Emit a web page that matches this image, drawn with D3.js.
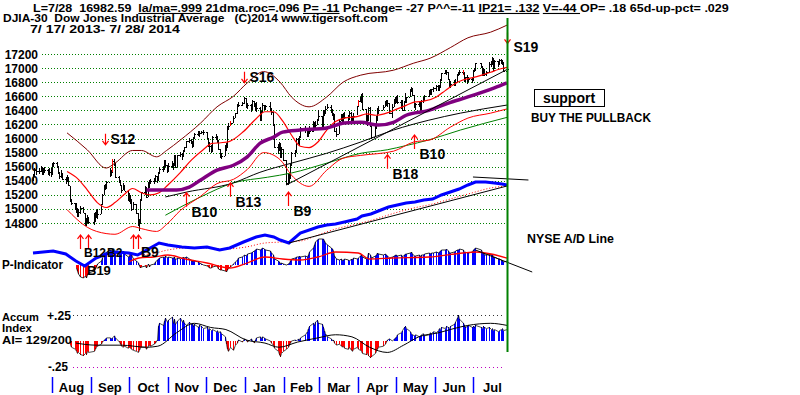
<!DOCTYPE html>
<html>
<head>
<meta charset="utf-8">
<title>DJIA-30 Dow Jones Industrial Average</title>
<script src="https://cdn.jsdelivr.net/npm/d3@7"></script>
<style>
  body { margin: 0; background: #fff; }
  svg { display: block; }
  text { font-family: "Liberation Sans", Arial, sans-serif; font-weight: bold; fill: #000; white-space: pre; }
</style>
</head>
<body>
<svg id="chart" width="800" height="395"></svg>
<script>
// ---- values ----
const holidays = ["2013-09-02", "2013-11-28", "2013-12-25", "2014-01-01", "2014-01-20",
  "2014-02-17", "2014-04-18", "2014-05-26", "2014-07-04"];

// daily closes, one line per month (Jul 17 2013 .. Jul 28 2014)
const closes = [
  15470, 15548, 15543, 15545, 15568, 15542, 15555, 15559, 15521, 15520, 15500,
  15628, 15658, 15612, 15518, 15470, 15498, 15425, 15419, 15451, 15337, 15112, 15081, 15010, 15002, 14897, 14963, 15010, 14946, 14776, 14824, 14840, 14810,
  14834, 14930, 14937, 14922, 15063, 15191, 15327, 15300, 15376, 15494, 15529, 15676, 15636, 15451, 15401, 15334, 15273, 15328, 15258, 15130,
  15191, 15133, 14997, 15073, 14936, 14776, 14802, 15127, 15237, 15301, 15168, 15373, 15371, 15399, 15392, 15467, 15413, 15509, 15570, 15568, 15680, 15618, 15545,
  15615, 15639, 15618, 15746, 15593, 15761, 15783, 15751, 15821, 15876, 15961, 15976, 15967, 15900, 16009, 16064, 16072, 16073, 16097, 16086,
  16008, 15914, 15889, 15821, 16020, 16025, 15973, 15844, 15739, 15755, 15884, 15875, 16168, 16179, 16221, 16294, 16357, 16479, 16478, 16505, 16577,
  16441, 16469, 16426, 16531, 16463, 16444, 16437, 16257, 16374, 16481, 16418, 16459, 16415, 16374, 16198, 15880, 15838, 15929, 15739, 15849, 15699,
  15373, 15445, 15441, 15629, 15795, 15802, 15995, 15964, 16028, 16154, 16130, 16040, 16133, 16104, 16208, 16180, 16198, 16273, 16322,
  16169, 16396, 16361, 16422, 16453, 16419, 16351, 16341, 16109, 16065, 16248, 16337, 16223, 16332, 16303, 16277, 16367, 16268, 16264, 16324, 16458,
  16533, 16573, 16573, 16413, 16246, 16257, 16438, 16171, 16027, 16174, 16263, 16425, 16409, 16449, 16514, 16501, 16502, 16361, 16448, 16535, 16581,
  16559, 16513, 16531, 16402, 16519, 16551, 16584, 16696, 16715, 16614, 16447, 16491, 16512, 16375, 16533, 16543, 16606, 16676, 16634, 16699, 16717,
  16744, 16723, 16738, 16836, 16924, 16944, 16946, 16844, 16734, 16776, 16781, 16809, 16907, 16922, 16948, 16937, 16818, 16867, 16846, 16852, 16827,
  16957, 16977, 17068, 17025, 16906, 16985, 16915, 16944, 17055, 17061, 17139, 16977, 17100, 17052, 17114, 17087, 17083, 16961, 16983
];
// points from close up to the day's high
const hiOff = [
  30, 40, 50, 40, 40, 50, 30, 40, 50, 60, 80,
  20, 10, 50, 90, 50, 60, 80, 40, 30, 110, 220, 60, 80, 80, 120, 30, 30, 80, 170, 40, 70, 70,
  110, 20, 50, 80, 10, 20, 10, 50, 20, 80, 30, 30, 70, 200, 60, 80, 70, 40, 80, 120,
  30, 60, 140, 30, 130, 170, 60, 10, 10, 20, 140, 10, 40, 20, 40, 20, 60, 10, 20, 40, 10, 80, 80,
  30, 40, 40, 20, 170, 10, 20, 40, 10, 10, 10, 30, 30, 70, 10, 20, 30, 30, 10, 30,
  90, 100, 60, 80, 10, 40, 60, 130, 110, 40, 20, 60, 10, 40, 30, 20, 10, 10, 40, 20, 10,
  140, 30, 70, 20, 70, 60, 80, 190, 20, 30, 60, 20, 110, 60, 180, 320, 80, 20, 190, 30, 150,
  320, 50, 60, 10, 10, 30, 10, 40, 10, 10, 50, 100, 20, 70, 40, 60, 50, 10, 80,
  150, 10, 40, 40, 40, 50, 70, 20, 230, 80, 20, 10, 120, 30, 70, 50, 20, 110, 50, 40, 10,
  20, 20, 60, 230, 170, 70, 10, 270, 150, 30, 50, 10, 50, 20, 20, 40, 40, 140, 40, 30, 10,
  50, 100, 20, 140, 20, 90, 10, 10, 20, 110, 170, 20, 10, 140, 10, 40, 10, 10, 70, 10, 20,
  10, 30, 20, 10, 10, 30, 30, 100, 110, 40, 50, 40, 10, 20, 20, 30, 130, 10, 50, 20, 50,
  10, 30, 10, 50, 120, 10, 70, 20, 30, 40, 20, 160, 10, 50, 10, 40, 30, 120, 30
];
// points from close down to the day's low
const loOff = [
  80, 90, 60, 50, 50, 60, 70, 50, 40, 50, 40,
  130, 60, 30, 20, 50, 60, 20, 60, 70, 10, 10, 30, 20, 60, 10, 70, 80, 10, 10, 60, 40, 20,
  60, 110, 60, 70, 140, 130, 130, 30, 80, 40, 60, 150, 30, 10, 40, 10, 40, 60, 10, 10,
  90, 60, 20, 90, 10, 10, 110, 330, 120, 100, 10, 210, 70, 50, 40, 90, 40, 100, 70, 40, 120, 20, 30,
  80, 60, 60, 130, 10, 170, 50, 60, 90, 60, 90, 40, 50, 30, 110, 60, 40, 50, 40, 30,
  20, 30, 80, 30, 200, 40, 30, 10, 20, 50, 130, 50, 300, 60, 50, 80, 70, 130, 30, 50, 80,
  10, 50, 50, 110, 20, 50, 60, 10, 130, 100, 20, 50, 20, 40, 20, 10, 60, 90, 10, 120, 20,
  30, 100, 80, 190, 170, 60, 200, 40, 130, 130, 50, 20, 100, 40, 110, 40, 50, 80, 80,
  40, 230, 40, 70, 40, 50, 30, 80, 10, 50, 180, 90, 30, 120, 30, 60, 90, 10, 50, 70, 130,
  80, 50, 70, 10, 20, 80, 190, 10, 30, 150, 130, 170, 60, 50, 70, 40, 60, 10, 150, 90, 90,
  60, 30, 110, 10, 130, 50, 80, 110, 50, 10, 10, 80, 60, 10, 160, 40, 70, 80, 20, 70, 60,
  70, 50, 60, 110, 90, 30, 50, 10, 10, 60, 40, 60, 100, 40, 40, 40, 10, 70, 70, 50, 40,
  130, 30, 90, 30, 10, 80, 30, 60, 120, 40, 80, 10, 120, 30, 60, 30, 40, 10, 80
];
const redBarDays = ["2013-09-18", "2013-12-20", "2014-04-01", "2014-06-23"];
const priceTicks = [17200, 17000, 16800, 16600, 16400, 16200, 16000, 15800, 15600, 15400, 15200, 15000, 14800];

const bandDates = ["2013-08-13", "2013-08-29", "2013-09-13", "2013-09-20", "2013-10-04", "2013-10-11", "2013-10-23",
  "2013-10-31", "2013-11-11", "2013-11-27", "2013-12-10", "2013-12-23", "2014-01-03", "2014-01-16", "2014-01-29",
  "2014-02-07", "2014-02-21", "2014-03-07", "2014-03-20", "2014-04-03", "2014-04-29", "2014-05-15", "2014-05-28",
  "2014-06-13", "2014-06-27", "2014-07-15", "2014-07-28"];
const upperBand = [16080, 15840, 15580, 15650, 15830, 15830, 15740, 15830, 15980, 16220, 16450, 16600, 16790, 16950,
  16800, 16590, 16450, 16590, 16800, 16900, 16970, 17070, 17140, 17290, 17430, 17510, 17610];
const lowerBand = [14990, 14740, 14650, 14640, 14750, 14720, 14680, 14780, 14980, 15180, 15360, 15420, 15560, 15800,
  15700, 15480, 15320, 15550, 15720, 15760, 15820, 15950, 15980, 16160, 16290, 16360, 16420];

const ma21Dates = ["2013-08-13", "2013-08-22", "2013-08-29", "2013-09-06", "2013-09-13", "2013-09-20", "2013-09-27",
  "2013-10-04", "2013-10-11", "2013-10-18", "2013-10-25", "2013-11-01", "2013-11-11", "2013-11-20", "2013-11-29",
  "2013-12-06", "2013-12-13", "2013-12-20", "2013-12-31", "2014-01-10", "2014-01-17", "2014-01-24", "2014-01-31",
  "2014-02-07", "2014-02-14", "2014-02-21", "2014-02-28", "2014-03-07", "2014-03-14", "2014-03-21", "2014-03-31",
  "2014-04-08", "2014-04-15", "2014-04-25", "2014-05-02", "2014-05-09", "2014-05-16", "2014-05-23", "2014-06-02",
  "2014-06-09", "2014-06-16", "2014-06-23", "2014-06-30", "2014-07-08", "2014-07-15", "2014-07-21", "2014-07-28"];
const ma21 = [15530, 15420, 15270, 15090, 15020, 15090, 15200, 15290, 15230, 15200, 15230, 15340, 15520, 15700, 15840,
  15930, 15940, 15960, 16100, 16280, 16380, 16380, 16250, 16050, 15890, 15870, 15950, 16120, 16240, 16290, 16310,
  16350, 16330, 16370, 16420, 16470, 16520, 16530, 16590, 16680, 16770, 16830, 16860, 16900, 16940, 16980, 17010];

const ma50Dates = ["2013-10-15", "2013-11-08", "2013-11-18", "2013-11-27", "2013-12-10", "2013-12-23", "2014-01-03",
  "2014-01-13", "2014-01-24", "2014-01-31", "2014-02-14", "2014-03-07", "2014-03-21", "2014-04-03", "2014-04-17",
  "2014-04-29", "2014-05-09", "2014-05-27", "2014-06-11", "2014-06-27", "2014-07-18", "2014-07-28"];
const ma50 = [15270, 15270, 15310, 15410, 15550, 15620, 15740, 15930, 16020, 16090, 16120, 16150, 16220, 16230, 16190,
  16230, 16330, 16400, 16500, 16590, 16720, 16790];

const ma200Dates = ["2013-10-30", "2013-11-16", "2013-12-23", "2014-01-13", "2014-02-07", "2014-03-07", "2014-04-03",
  "2014-04-29", "2014-05-27", "2014-06-21", "2014-07-28"];
const ma200 = [15170, 15240, 15370, 15520, 15650, 15790, 15950, 16120, 16260, 16360, 16475];

const greenDates = ["2013-10-30", "2013-11-27", "2013-12-23", "2014-01-19", "2014-02-07", "2014-03-07", "2014-04-03",
  "2014-04-24", "2014-05-09", "2014-05-27", "2014-06-21", "2014-07-28"];
const greenLine = [14910, 15170, 15370, 15450, 15510, 15650, 15790, 15840, 15900, 15980, 16120, 16300];

const priceTrend = [["2014-02-03", 15340], ["2014-07-28", 16980]];

// [date, label, price at arrow tip]
const signals = [
  ["2013-09-12", "S12", 15910], ["2013-12-31", "S16", 16790], ["2014-07-28", "S19", 17350],
  ["2013-11-15", "B10", 15230], ["2013-12-20", "B13", 15370], ["2014-02-04", "B9", 15240],
  ["2014-04-24", "B18", 15770], ["2014-05-15", "B10", 16050],
  ["2013-08-23", "", 14630], ["2013-08-30", "", 14630], ["2013-10-04", "", 14630], ["2013-10-08", "", 14630]
];

// P-Indicator, daily from Aug 20 2013
const pStart = "2013-08-20";
const pValues = [
  -3, -6, -9, -12, -13, -11, -13, -10, -8, -6, -4, -2, 1,
  4, 7, 10, 12, 13, 15, 14, 16, 13, 12, 11, 13, 12, 14, 11, 8,
  9, 12, 10, 6, 4, 2, -1, -3, -2, -1, -3, 1, -2, 0, 1, 3, 5, 6, 7, 8, 7, 9, 7,
  8, 7, 7, 8, 5, 7, 6, 7, 8, 7, 8, 6, 5, 3, 5, 4, 3, 2, 1, 0,
  -1, -2, -3, -3, -2, -1, -2, -4, -5, -5, -6, -7, -5, -3, -2, 1, 3, 5, 7, 8, 10,
  9, 11, 12, 13, 14, 15, 16, 15, 16, 17, 16, 15, 14, 12, 10, 6, 4, 3, 1, 2, 1,
  0, 1, 2, 4, 6, 7, 8, 8, 9, 8, 9, 8, 10, 13, 17, 20, 23, 25, 26,
  26, 26, 24, 22, 20, 17, 16, 14, 9, 6, 5, 6, 4, 5, 6, 5, 4, 6, 5, 7, 6,
  7, 9, 10, 8, 6, 7, 12, 10, 7, 9, 10, 12, 11, 10, 11, 10, 9, 7, 8, 9, 10,
  10, 9, 10, 8, 10, 11, 11, 12, 13, 11, 9, 9, 10, 8, 10, 10, 11, 12, 11, 12, 12,
  13, 12, 13, 14, 15, 15, 16, 14, 12, 12, 13, 14, 15, 15, 16, 15, 12, 13, 12, 12, 13,
  15, 16, 17, 15, 12, 12, 10, 10, 11, 10, 11, 7, 8, 6, 6, 5, 4, 3, 4
];
const pMaDates = ["2013-10-01", "2013-10-09", "2013-10-21", "2013-11-01", "2013-11-15", "2013-12-02", "2013-12-20",
  "2014-01-03", "2014-01-17", "2014-01-31", "2014-02-14", "2014-02-28", "2014-03-14", "2014-04-01", "2014-04-10",
  "2014-04-28", "2014-05-27", "2014-06-23", "2014-07-03", "2014-07-28"];
const pMa = [3, 7, 8, 10, 6, 2, -3, 2, 8, 6, 5, 8, 13, 12, 6, 7, 8, 12, 13, 7];
const pTrend = [["2014-07-03", 15], ["2014-08-17", -7]];

// NYSE A/D line (index units)
const adDates = ["2013-07-17", "2013-07-25", "2013-08-02", "2013-08-12", "2013-08-20", "2013-08-27", "2013-09-05",
  "2013-09-13", "2013-09-20", "2013-10-01", "2013-10-08", "2013-10-18", "2013-10-25", "2013-11-01", "2013-11-12",
  "2013-11-22", "2013-12-02", "2013-12-12", "2013-12-20", "2013-12-31", "2014-01-10", "2014-01-17", "2014-01-24",
  "2014-01-29", "2014-02-05", "2014-02-14", "2014-02-28", "2014-03-07", "2014-03-14", "2014-03-21", "2014-03-31",
  "2014-04-04", "2014-04-11", "2014-04-17", "2014-04-25", "2014-05-02", "2014-05-09", "2014-05-16", "2014-05-23",
  "2014-05-30", "2014-06-06", "2014-06-13", "2014-06-20", "2014-06-27", "2014-07-03", "2014-07-11", "2014-07-18",
  "2014-07-24", "2014-07-28"];
const adValues = [9, 10, 11, 8, 1, -4, 4, 8, 10, 9, 7, 14, 19, 17, 15, 14, 15, 12, 14, 20, 25, 27, 25, 22, 19, 29, 35,
  37, 38, 40, 43, 46, 48, 51, 55, 57, 59, 60, 62, 63, 67, 70, 73, 77, 80, 80, 79, 78, 77];
const adMaDates = ["2013-10-01", "2013-10-18", "2013-11-01", "2013-11-15", "2013-12-02", "2013-12-16", "2014-01-02",
  "2014-01-17", "2014-01-31", "2014-02-14", "2014-02-28", "2014-03-14", "2014-03-31", "2014-04-15", "2014-04-30",
  "2014-05-15", "2014-05-30", "2014-06-13", "2014-06-30", "2014-07-15", "2014-07-28"];
const adMa = [7, 8, 12, 14, 14, 13, 15, 19, 20, 21, 27, 33, 38, 43, 49, 54, 58, 63, 69, 74, 76];
const adTrend = [["2014-02-05", 19], ["2014-07-28", 76]];
const adTop = [["2014-07-01", 85], ["2014-08-14", 82]];

// Accumulation Index, daily from Aug 15 2013, in hundredths
const aiStart = "2013-08-15";
const aiValues = [
  -4, -6, -8, -10, -12, -11, -13, -14, -12, -13, -10, -11,
  -10, -8, -6, -5, -3, -1, 1, 2, 3, 3, 2, 3, 5, 3, -1, -3, -5, -6, -5, -7,
  -6, -7, -8, -9, -10, -11, -9, -7, -6, -6, -8, -5, -4, -5, -3, -2, 1, 14, 17, 15, 19, 22, 18,
  20, 23, 17, 21, 16, 19, 22, 18, 20, 17, 15, 18, 16, 17, 14, 16, 13, 15, 14, 12,
  13, 11, 12, 10, 11, 9, 10, 8, 9, 7, 4, -3, -8, -10, -6, -9, -4, -2, 1, -1, 2,
  1, -1, 2, 0, -2, 1, 3, 4, 2, 4, 3, 2, 0, -2, -4, -7, -10, -13, -15, -12, -10,
  -8, -6, -4, -2, 0, 1, 0, 2, 1, 3, 6, 9, 12, 14, 17, 15, 18, 20, 17,
  16, 13, 10, 7, 4, 2, 0, 1, -2, -4, -3, -5, -6, -5, -7, -8, -6, -9, -10, -8, -6,
  -8, -9, -10, -12, -13, -12, -14, -16, -15, -12, -10, -8, -6, -5, -3, -1, 1, 2, 0, 2, 3,
  4, 6, 8, 10, 13, 14, 12, 9, 7, 6, 5, 6, 4, 5, 6, 7, 5, 6, 8, 7, 9,
  8, 10, 12, 11, 13, 12, 14, 13, 12, 14, 16, 18, 22, 25, 21, 17, 15, 13, 14, 15, 13,
  14, 13, 15, 13, 12, 14, 13, 12, 13, 11, 12, 10, 11, 9, 10, 11, 12, 10, 11
];
const aiMaDates = ["2013-08-20", "2013-09-05", "2013-09-25", "2013-10-15", "2013-10-24", "2013-11-08", "2013-11-22",
  "2013-12-05", "2013-12-17", "2014-01-02", "2014-01-17", "2014-01-28", "2014-02-12", "2014-02-28", "2014-03-14",
  "2014-03-27", "2014-04-10", "2014-04-24", "2014-05-07", "2014-05-19", "2014-06-04", "2014-06-16", "2014-06-27",
  "2014-07-15", "2014-07-28"];
const aiMa = [-2, -4, -4, -6, -5, 8, 17, 13, 11, 1, -2, -6, -1, 3, 6, 4, -6, -11, -4, 4, 8, 12, 15, 17, 15];

const monthLabels = ["Aug", "Sep", "Oct", "Nov", "Dec", "Jan", "Feb", "Mar", "Apr", "May", "Jun", "Jul"];

// ---- drawing ----
const svg = d3.select("#chart");
const parse = d3.timeParse("%Y-%m-%d");
const fmt = d3.timeFormat("%Y-%m-%d");

const days = d3.timeDay.range(new Date(2013, 6, 17), new Date(2014, 6, 29))
  .filter(d => d.getDay() !== 0 && d.getDay() !== 6 && !holidays.includes(fmt(d)));

const x = d3.scaleTime().domain([new Date(2013, 6, 17), new Date(2014, 6, 28)]).range([33, 507]);
const y = d3.scaleLinear().domain([14800, 17200]).range([223, 54]);
const pY = d3.scaleLinear().domain([0, 30]).range([265, 235]);
const adY = d3.scaleLinear().domain([0, 80]).range([262, 182]);
const aiY = d3.scaleLinear().domain([-0.25, 0.25]).range([367, 315]);
const px = d => Math.round(x(d));

const pts = (dates, vals) => dates.map((d, i) => ({ date: parse(d), v: vals[i] }));

function label(str, x0, yb, size, width, anchor) {
  const t = svg.append("text").attr("x", x0).attr("y", yb).style("font-size", size + "px").text(str);
  if (anchor) t.attr("text-anchor", anchor);
  if (width) {
    const w = t.node().getComputedTextLength();
    t.attr("x", 0).attr("y", 0).attr("transform", `translate(${x0},${yb}) scale(${width / w},1)`);
  }
  return t;
}

// header
const head = svg.append("text").style("font-size", "11px");
[["L=7/28  16982.59  ", false], ["la/ma=.999", true], [" 21dma.roc=.096 ", false], ["P= -11", true],
 [" Pchange= -27 P^^=-11 ", false], ["IP21= .132", true], [" ", false], ["V=-44 ", true],
 ["OP= .18 65d-up-pct= .029", false]].forEach(([s, u]) => {
  head.append("tspan").text(s).style("text-decoration", u ? "underline" : null);
});
head.attr("transform", `translate(33,12) scale(${697 / head.node().getComputedTextLength()},1)`);
label("DJIA-30  Dow Jones Industrial Average   (C)2014 www.tigersoft.com", 3, 22, 11, 385);
label("7/ 17/ 2013- 7/ 28/ 2014", 30, 33, 11, 150);

// price grid + labels
svg.append("g").selectAll("line").data(priceTicks).enter().append("line")
  .attr("x1", 42).attr("x2", 505)
  .attr("y1", d => Math.round(y(d)) + 0.5).attr("y2", d => Math.round(y(d)) + 0.5)
  .attr("stroke", "#008000").attr("stroke-dasharray", "1,2");
svg.append("g").selectAll("text").data(priceTicks).enter().append("text")
  .attr("x", 38).attr("y", d => y(d) + 4.5).attr("text-anchor", "end")
  .style("font-size", "12px").text(d => d);

// price bars
const bars = closes.map((c, i) => ({ date: days[i], c, hi: c + hiOff[i], lo: c - loOff[i], prev: i ? closes[i - 1] : null }));
const redSet = new Set(redBarDays);
const barG = svg.append("g").attr("shape-rendering", "crispEdges");
barG.selectAll(".bar").data(bars).enter().append("rect")
  .attr("x", d => px(d.date)).attr("width", 1)
  .attr("y", d => Math.round(y(d.hi)))
  .attr("height", d => Math.max(2, Math.round(y(d.lo)) - Math.round(y(d.hi))))
  .attr("fill", d => redSet.has(fmt(d.date)) ? "#ff0000" : "#000");
barG.selectAll(".cl").data(bars).enter().append("rect")
  .attr("x", d => px(d.date) + 1).attr("width", 1).attr("height", 1)
  .attr("y", d => Math.round(y(d.c))).attr("fill", "#000");
barG.selectAll(".op").data(bars.filter(d => d.prev !== null)).enter().append("rect")
  .attr("x", d => px(d.date) - 1).attr("width", 1).attr("height", 1)
  .attr("y", d => Math.round(y(d.prev))).attr("fill", "#000");

// price overlays
const smooth = d3.line().x(d => x(d.date)).y(d => y(d.v)).curve(d3.curveMonotoneX);
const drawLine = (data, gen, color, w, dash) => svg.append("path").datum(data).attr("d", gen)
  .attr("fill", "none").attr("stroke", color).attr("stroke-width", w).attr("stroke-dasharray", dash || null);
drawLine(pts(greenDates, greenLine), smooth, "#008000", 1);
drawLine(pts(ma200Dates, ma200), smooth, "#000", 1);
drawLine(pts(bandDates, lowerBand), smooth, "#ff0000", 1);
drawLine(pts(bandDates, upperBand), smooth, "#800000", 1);
drawLine(pts(ma21Dates, ma21), smooth, "#ff0000", 1.2);
drawLine(pts(ma50Dates, ma50), smooth, "#800080", 3.5);
drawLine(priceTrend.map(([d, v]) => ({ date: parse(d), v })), d3.line().x(d => x(d.date)).y(d => y(d.v)), "#000", 1);

// signal arrows
const arrowG = svg.append("g");
signals.forEach(([d, name, tip]) => {
  const xx = px(parse(d)) + 0.5, ty = y(tip);
  const up = name === "" || name[0] === "B";
  const len = up ? 14 : 11, s = up ? 1 : -1;
  arrowG.append("path")
    .attr("d", `M${xx},${ty + s * len}L${xx},${ty}M${xx - 3},${ty + s * 4}L${xx},${ty}L${xx + 3},${ty + s * 4}`)
    .attr("fill", "none").attr("stroke", "#ff0000").attr("stroke-width", 1.2);
  if (name) {
    const lx = name === "S19" ? xx + 6 : xx + 5;
    const ly = name === "S19" ? ty + 9 : (up ? ty + 24 : ty - 1);
    label(name, lx, ly, 14);
  }
});

// P-Indicator panel
const p0 = days.findIndex(d => fmt(d) === pStart);
const pData = pValues.map((v, i) => ({ date: days[p0 + i], v }));
svg.append("g").attr("shape-rendering", "crispEdges").selectAll("rect")
  .data(pData.filter(d => d.v !== 0)).enter().append("rect")
  .attr("x", d => px(d.date)).attr("width", 1)
  .attr("y", d => Math.min(pY(d.v), pY(0))).attr("height", d => Math.abs(pY(d.v) - pY(0)))
  .attr("fill", d => d.v > 0 ? "#0000ff" : "#ff0000");
drawLine(pData, d3.line().x(d => px(d.date) + 0.5).y(d => pY(d.v)), "#000", 0.8);
drawLine(pts(pMaDates, pMa), d3.line().x(d => x(d.date)).y(d => pY(d.v)).curve(d3.curveMonotoneX), "#ff0000", 1.3);
drawLine(pTrend.map(([d, v]) => ({ date: parse(d), v })), d3.line().x(d => x(d.date)).y(d => pY(d.v)), "#000", 1);

// A/D line
drawLine(pts(adMaDates, adMa), d3.line().x(d => x(d.date)).y(d => adY(d.v)).curve(d3.curveMonotoneX), "#ff0000", 1, "1,2");
drawLine(pts(adDates, adValues), d3.line().x(d => x(d.date)).y(d => adY(d.v)), "#0000ff", 3);
drawLine(adTrend.map(([d, v]) => ({ date: parse(d), v })), d3.line().x(d => x(d.date)).y(d => adY(d.v)), "#000", 1);
drawLine(adTop.map(([d, v]) => ({ date: parse(d), v })), d3.line().x(d => x(d.date)).y(d => adY(d.v)), "#000", 1);

// Accumulation Index panel
[[0.25, "#333"], [-0.25, "#c000c0"]].forEach(([v, c]) => {
  svg.append("line").attr("x1", 73).attr("x2", 505)
    .attr("y1", Math.round(aiY(v)) + 0.5).attr("y2", Math.round(aiY(v)) + 0.5)
    .attr("stroke", c).attr("stroke-dasharray", "1,3");
});
const a0 = days.findIndex(d => fmt(d) === aiStart);
const aiData = aiValues.map((v, i) => ({ date: days[a0 + i], v: v / 100 }));
svg.append("g").attr("shape-rendering", "crispEdges").selectAll("rect")
  .data(aiData.filter(d => d.v !== 0)).enter().append("rect")
  .attr("x", d => px(d.date)).attr("width", 1)
  .attr("y", d => Math.min(aiY(d.v), aiY(0))).attr("height", d => Math.abs(aiY(d.v) - aiY(0)))
  .attr("fill", d => d.v > 0 ? "#0000ff" : "#ff0000");
drawLine(aiData, d3.line().x(d => px(d.date) + 0.5).y(d => aiY(d.v)), "#000", 0.7);
drawLine(pts(aiMaDates, aiMa).map(d => ({ date: d.date, v: d.v / 100 })),
  d3.line().x(d => x(d.date)).y(d => aiY(d.v)).curve(d3.curveMonotoneX), "#000", 1);

// month axis
const monthStarts = d3.timeMonth.range(new Date(2013, 7, 1), new Date(2014, 7, 1));
svg.append("g").selectAll("line").data(monthStarts).enter().append("line")
  .attr("x1", d => px(d) + 0.5).attr("x2", d => px(d) + 0.5).attr("y1", 377).attr("y2", 393)
  .attr("stroke", "#0000ff").attr("stroke-width", 1.5);
svg.append("g").selectAll("text").data(monthLabels).enter().append("text")
  .attr("x", (m, i) => (x(monthStarts[i]) + x(d3.timeMonth.offset(monthStarts[i], 1))) / 2)
  .attr("y", 392).attr("text-anchor", "middle").style("font-size", "13px").text(m => m);

// today marker
const xEnd = px(days[days.length - 1]) + 0.5;
svg.append("line").attr("x1", xEnd).attr("x2", xEnd).attr("y1", 18).attr("y2", 352)
  .attr("stroke", "#008000").attr("stroke-width", 2);

// panel labels and notes
label("P-Indicator", 2, 269, 12, 61);
label("Accum", 2, 321, 11, 37);
label("Index", 2, 332, 11, 30);
label("AI= 129/200", 2, 344, 11, 70);
label("+.25", 47, 320, 12, 24);
label("-.25", 48, 371, 12, 20);
label("B12", 84, 257, 12);
label("B2", 107, 257, 12);
label("B19", 87, 275, 13);
label("B9", 141, 257, 14);
svg.append("rect").attr("x", 534.5).attr("y", 89.5).attr("width", 70).attr("height", 17)
  .attr("fill", "none").attr("stroke", "#000");
label("support", 569, 103, 14, null, "middle");
label("BUY THE PULLBACK", 531, 122, 12, 120);
label("NYSE A/D Line", 527, 243, 12, 87);
</script>
</body>
</html>
